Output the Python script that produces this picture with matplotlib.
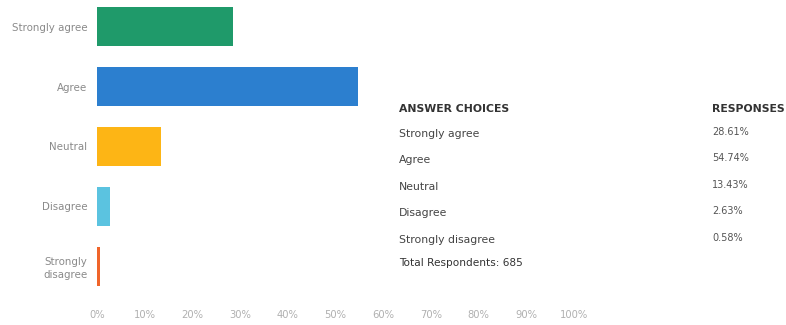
import matplotlib
matplotlib.use("Agg")
import matplotlib.pyplot as plt

categories = ["Strongly agree", "Agree", "Neutral", "Disagree", "Strongly\ndisagree"]
table_labels = ["Strongly agree", "Agree", "Neutral", "Disagree", "Strongly disagree"]
values = [28.61, 54.74, 13.43, 2.63, 0.58]
colors = ["#1f9a6a", "#2c7fcf", "#fdb515", "#5bc3e0", "#f0652a"]
xticks = [0, 10, 20, 30, 40, 50, 60, 70, 80, 90, 100]
xtick_labels = [f"{t}%" for t in xticks]
total = 685

W, H = 786, 325
fig = plt.figure(figsize=(W / 100, H / 100), dpi=100)
ax_left, ax_right = 97, 574
ax_top, ax_bot = 0, 293
ax = fig.add_axes([ax_left / W, (H - ax_bot) / H, (ax_right - ax_left) / W, (ax_bot - ax_top) / H])

ypos = list(range(len(categories)))
ax.barh(ypos, values, height=0.65, color=colors)
ax.set_xlim(0, 100)
ax.set_ylim(4.45, -0.45)
ax.set_yticks(ypos)
ax.set_yticklabels(categories, fontsize=7.4, color="#8a8a8a", linespacing=1.4)
ax.set_xticks(xticks)
ax.set_xticklabels(xtick_labels, fontsize=7.2, color="#b0b0b0")
ax.tick_params(axis="both", length=0)
ax.tick_params(axis="x", pad=12)
ax.tick_params(axis="y", pad=7)
for s in ax.spines.values():
    s.set_visible(False)

# table on the right
def fx(px):
    return px / W

def fy(py):
    return 1 - py / H

fig.text(fx(399), fy(109), "ANSWER CHOICES", fontsize=7.8, fontweight="bold", color="#333333", va="center", ha="left")
fig.text(fx(712), fy(109), "RESPONSES", fontsize=7.8, fontweight="bold", color="#333333", va="center", ha="left")
row_y = [134, 160, 187, 213, 240]
for lab, v, py in zip(table_labels, values, row_y):
    fig.text(fx(399), fy(py), lab, fontsize=7.8, color="#444444", va="center", ha="left")
    fig.text(fx(712), fy(py - 2), f"{v:.2f}%", fontsize=7, color="#555555", va="center", ha="left")
fig.text(fx(399), fy(263), f"Total Respondents: {total}", fontsize=7.6, color="#333333", va="center", ha="left")

fig.savefig("out.png", dpi=100, facecolor="white")
